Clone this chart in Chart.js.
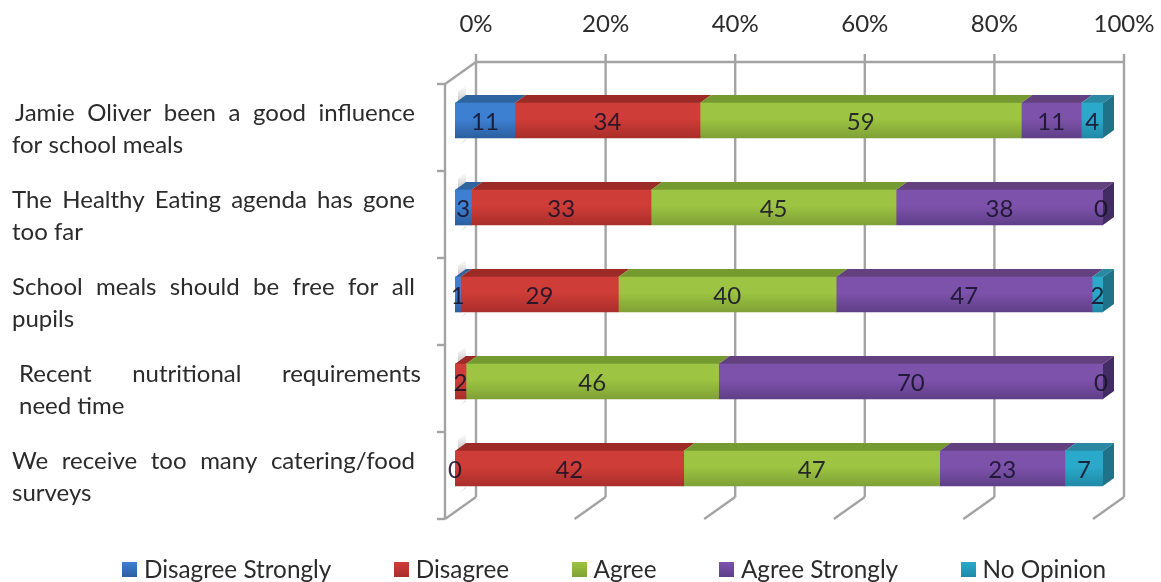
<!DOCTYPE html>
<html><head><meta charset="utf-8">
<style>html,body{margin:0;padding:0;background:#fff}canvas{display:block;filter:blur(.4px)}</style>
<script src="https://cdn.jsdelivr.net/npm/chart.js@4"></script>
</head><body><canvas id="c" width="1161" height="582"></canvas>
<script>
const categories = [
  ["Jamie Oliver been a good influence","for school meals"],
  ["The Healthy Eating agenda has gone","too far"],
  ["School meals should be free for all","pupils"],
  ["Recent nutritional requirements","need time"],
  ["We receive too many catering/food","surveys"]
];
const seriesNames = ["Disagree Strongly","Disagree","Agree","Agree Strongly","No Opinion"];
const disagreeStrongly = [11,3,1,null,0];
const disagree = [34,33,29,2,42];
const agree = [59,45,40,46,47];
const agreeStrongly = [11,38,47,70,23];
const noOpinion = [4,0,2,0,7];
const percentTicks = [0,20,40,60,80,100];
const seriesValues = [disagreeStrongly,disagree,agree,agreeStrongly,noOpinion];

const faceLight = ["#3d80d2","#cf3d38","#9dc442","#7d52ab","#2ba9ca"];
const faceDark  = ["#2b5f9f","#a92e2a","#7fa136","#5f3f88","#1f89a6"];
const topFace   = ["#2f659f","#9c2a26","#759a30","#63417f","#2a88a2"];
const sideFace  = ["#24527f","#7c2320","#5f7d27","#432c63","#1f7389"];
const FONT = "Lato";
const labelIndent = [[15,415],[12,415],[12,415],[19,421],[12,415]];

const rowTotals = categories.map((_,r)=>seriesValues.reduce((s,a)=>s+(a[r]||0),0));
const shares = a => a.map((v,r)=>v===null?null:v/rowTotals[r]*100);

const BAR_DX=11,BAR_DY=8,BACK_DX=21,BACK_DY=15,FRONT_DX=10,FRONT_DY=7;

function swatch(d){
  const cv=document.createElement('canvas');cv.width=15;cv.height=15;
  const c=cv.getContext('2d'),g=c.createLinearGradient(0,0,0,15);
  g.addColorStop(0,faceLight[d]);g.addColorStop(1,faceDark[d]);
  c.fillStyle=g;c.fillRect(0,0,15,15);
  return cv;
}

const scene = {
  id:'scene',
  afterInit(chart){
    const lg=chart.legend, fit=lg.fit;
    lg.fit=function(){this.maxWidth=3000;fit.call(this);this.height=70;};
  },
  afterLayout(chart){
    const lg=chart.legend;
    lg.left=59.5; lg.right=3000; lg.top=490; lg.bottom=582;
  },
  beforeDatasetsDraw(chart){
    const {ctx,scales:{x,y}}=chart;
    ctx.save();
    ctx.strokeStyle="#a3a3a3"; ctx.lineWidth=2.4; ctx.lineCap="butt";
    const n=categories.length;
    const botB=y.getPixelForValue(n-0.5)-BACK_DY;
    const topY=y.getPixelForValue(-0.5)-BACK_DY;
    const line=(a,b,c,d)=>{ctx.beginPath();ctx.moveTo(a,b);ctx.lineTo(c,d);ctx.stroke();};
    percentTicks.forEach(t=>{
      const bx=x.getPixelForValue(t)+BACK_DX;
      line(bx,topY-8,bx,botB);
      line(bx,botB,bx-BACK_DX-FRONT_DX,botB+BACK_DY+FRONT_DY);
    });
    const l=x.getPixelForValue(0), r=x.getPixelForValue(100);
    line(l+BACK_DX,topY,r+BACK_DX,topY);
    const fx=l-FRONT_DX;
    line(fx,topY+BACK_DY+FRONT_DY,l+BACK_DX,topY);
    line(fx,topY+BACK_DY+FRONT_DY,fx,botB+BACK_DY+FRONT_DY);
    for(let i=0;i<=n;i++){
      const ty=y.getPixelForValue(i-0.5)+FRONT_DY;
      line(fx-8,ty,fx,ty);
    }
    // soft shadow of each bar on the side wall
    for(let i=0;i<n;i++){
      const cy=y.getPixelForValue(i), h=17.5;
      [[cy-h-18,cy-h-1],[cy+h+1,cy+h+12]].forEach((s,k)=>{
        const g=ctx.createLinearGradient(0,s[0],0,s[1]);
        g.addColorStop(k?0:1,"rgba(120,120,120,.45)");g.addColorStop(k?1:0,"rgba(160,160,160,0)");
        ctx.fillStyle=g;
        ctx.beginPath();ctx.moveTo(l+3,s[1]+(k?-4:2));ctx.lineTo(l+11,s[1]+(k?-10:-3));ctx.lineTo(l+11,s[0]);ctx.lineTo(l+3,s[0]+7);ctx.closePath();ctx.fill();
      });
    }
    // top and end faces of the bars
    for(let r0=0;r0<n;r0++){
      let last=-1,lastEl=null;
      seriesValues.forEach((vals,d)=>{
        if(vals[r0]===null) return;
        const el=chart.getDatasetMeta(d).data[r0];
        const a=el.base,b=el.x,t=el.y-el.height/2;
        if(vals[r0]>0){last=d;lastEl=el;}
        ctx.fillStyle=topFace[d];
        ctx.beginPath();ctx.moveTo(a,t);ctx.lineTo(b,t);ctx.lineTo(b+BAR_DX,t-BAR_DY);ctx.lineTo(a+BAR_DX,t-BAR_DY);ctx.closePath();ctx.fill();
      });
      if(lastEl){
        const b=lastEl.x,t=lastEl.y-lastEl.height/2,bt=lastEl.y+lastEl.height/2;
        ctx.fillStyle=sideFace[last];
        ctx.beginPath();ctx.moveTo(b,t);ctx.lineTo(b+BAR_DX,t-BAR_DY);ctx.lineTo(b+BAR_DX,bt-BAR_DY);ctx.lineTo(b,bt);ctx.closePath();ctx.fill();
      }
    }
    ctx.restore();
  },
  afterDatasetsDraw(chart){
    const {ctx,scales:{x,y}}=chart;
    ctx.save();
    // value labels
    ctx.font="24px "+FONT; ctx.textAlign="center"; ctx.textBaseline="middle";
    ctx.fillStyle="rgba(22,18,40,.88)";
    seriesValues.forEach((vals,d)=>{
      chart.getDatasetMeta(d).data.forEach((el,r)=>{
        if(vals[r]===null) return;
        const cx=(el.base+el.x)/2;
        ctx.fillText(String(vals[r]),vals[r]===0&&cx>1000?cx-2:cx,el.y+2);
      });
    });
    // category labels, first line justified
    ctx.fillStyle="#2b2b2b"; ctx.textAlign="left"; ctx.textBaseline="middle";
    categories.forEach((lines,r)=>{
      const cy=y.getPixelForValue(r);
      const [xa,xb]=labelIndent[r];
      const spaces=lines[0].split(" ").length-1;
      ctx.wordSpacing="0px";
      const w=ctx.measureText(lines[0]).width;
      ctx.wordSpacing=((xb-xa-w)/spaces)+"px";
      ctx.fillText(lines[0],xa,cy-7);
      ctx.wordSpacing="0px";
      ctx.fillText(lines[1],r===0?12:xa,cy+24.5);
    });
    ctx.restore();
  }
};

new Chart(document.getElementById('c'),{
  type:'bar',
  data:{
    labels:categories,
    datasets:seriesNames.map((name,d)=>({
      label:name,
      data:shares(seriesValues[d]),
      barThickness:35,
      borderWidth:0,
      backgroundColor(c){
        if(c.dataIndex===undefined||!c.chart.chartArea) return faceLight[d];
        const cy=c.chart.scales.y.getPixelForValue(c.dataIndex);
        const g=c.chart.ctx.createLinearGradient(0,cy-17.5,0,cy+17.5);
        g.addColorStop(0,faceLight[d]);g.addColorStop(.45,faceLight[d]);g.addColorStop(1,faceDark[d]);
        return g;
      }
    }))
  },
  options:{
    indexAxis:'y',
    responsive:false,
    animation:false,
    devicePixelRatio:1,
    layout:{padding:{left:0,right:58,top:0,bottom:0}},
    scales:{
      x:{
        position:'top',stacked:true,min:0,max:100,
        grid:{display:false},border:{display:false},
        afterFit(s){s.height=77;s.paddingLeft=0;s.paddingRight=0;},
        afterBuildTicks(s){s.ticks=percentTicks.map(v=>({value:v}));},
        ticks:{callback:v=>v+'%',labelOffset:21,padding:30,maxRotation:0,autoSkip:false,
               color:'#2b2b2b',font:{family:FONT,size:24}}
      },
      y:{
        stacked:true,
        grid:{display:false},border:{display:false},
        ticks:{display:false},
        afterFit(s){s.width=455;s.paddingTop=0;s.paddingBottom=0;}
      }
    },
    plugins:{
      tooltip:{enabled:false},
      legend:{
        position:'bottom',
        align:'start',
        labels:{
          usePointStyle:true,pointStyleWidth:4.5,boxHeight:15,padding:67.75,color:'#2b2b2b',
          font:{family:FONT,size:24.3},
          generateLabels(chart){
            return Chart.defaults.plugins.legend.labels.generateLabels(chart)
              .map((it,d)=>Object.assign(it,{pointStyle:swatch(d)}));
          }
        }
      }
    }
  },
  plugins:[scene]
});
</script></body></html>
